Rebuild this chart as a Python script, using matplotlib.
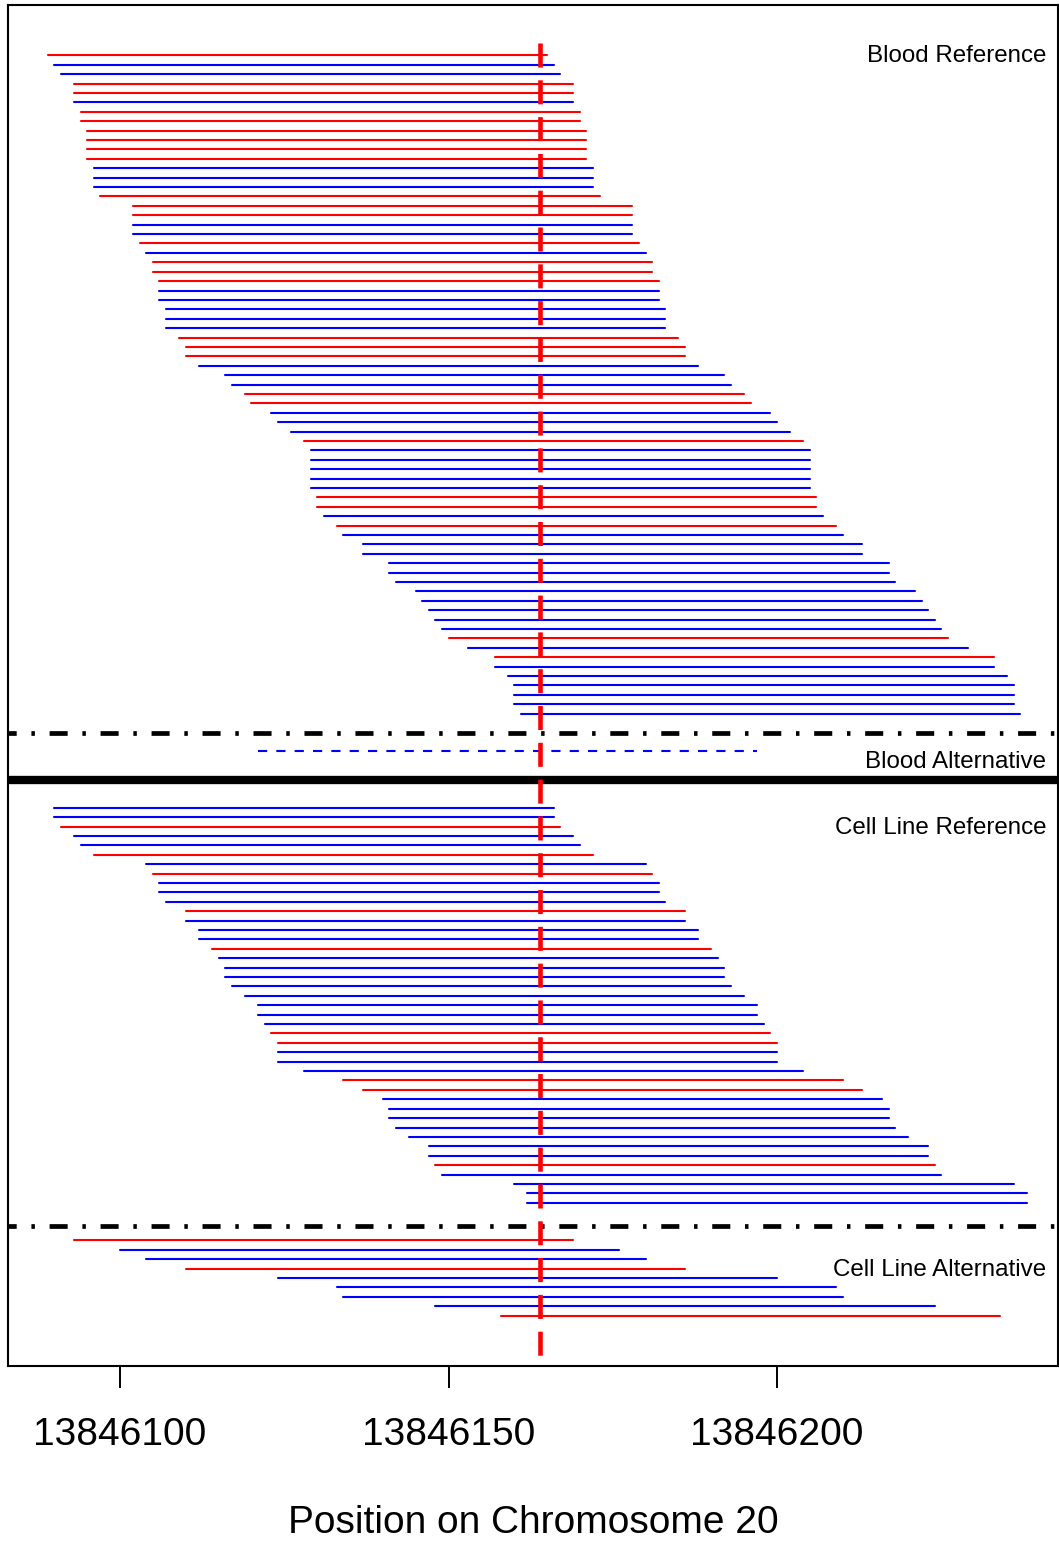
import numpy as np
import matplotlib
matplotlib.use("Agg")
import matplotlib.pyplot as plt

#
# DATA
#

# read starts (chromosome 20), every read is 76 bp long
read_len = 76

blood_ref_start = [13846089, 13846090, 13846091, 13846093, 13846093, 13846093, 13846094, 13846094,
                   13846095, 13846095, 13846095, 13846095, 13846096, 13846096, 13846096, 13846097,
                   13846102, 13846102, 13846102, 13846102, 13846103, 13846104, 13846105, 13846105,
                   13846106, 13846106, 13846106, 13846107, 13846107, 13846107, 13846109, 13846110,
                   13846110, 13846112, 13846116, 13846117, 13846119, 13846120, 13846123, 13846124,
                   13846126, 13846128, 13846129, 13846129, 13846129, 13846129, 13846129, 13846130,
                   13846130, 13846131, 13846133, 13846134, 13846137, 13846137, 13846141, 13846141,
                   13846142, 13846145, 13846146, 13846147, 13846148, 13846149, 13846150, 13846153,
                   13846157, 13846157, 13846159, 13846160, 13846160, 13846160, 13846161]
# R = red (forward), B = blue (reverse)
blood_ref_strand = "RBBRRBRRRRRRBBBRRRBBRBRRRBBBBBRRRBBBRRBBBRBBBBBRRBRBBBBBBBBBBBRBRBBBBBB"

blood_alt_start = [13846121]
blood_alt_strand = "B"

cell_ref_start = [13846090, 13846090, 13846091, 13846093, 13846094, 13846096, 13846104, 13846105,
                  13846106, 13846106, 13846107, 13846110, 13846110, 13846112, 13846112, 13846114,
                  13846115, 13846116, 13846116, 13846117, 13846119, 13846121, 13846121, 13846122,
                  13846123, 13846124, 13846124, 13846124, 13846128, 13846134, 13846137, 13846140,
                  13846141, 13846141, 13846142, 13846144, 13846147, 13846147, 13846148, 13846149,
                  13846160, 13846162, 13846162]
cell_ref_strand = "BBRBBRBRBBBRBBBRBBBBBBBBRRBBBRRBBBBBBBRBBBB"

cell_alt_start = [13846093, 13846100, 13846104, 13846110, 13846124, 13846133, 13846134,
                  13846148, 13846158]
cell_alt_strand = "RBBRBBBBR"

snp_pos = 13846164
xticks = [13846100, 13846150, 13846200]

strand_col = {"R": "#FF0000", "B": "#0000FF"}

#
# PLOTTING
#

plt.rcParams["font.family"] = ["Liberation Sans", "DejaVu Sans"]
plt.rcParams["lines.scale_dashes"] = False

fig = plt.figure(figsize=(10.59, 15.43), dpi=100)
ax = fig.add_axes([8 / 1059, 1 - 1366 / 1543, 1050 / 1059, 1361 / 1543])

# row numbers for each group of reads
y_blood_ref = np.arange(len(blood_ref_start))
y_blood_alt = np.array([74])
y_cell_ref = 80 + np.arange(len(cell_ref_start))
y_cell_alt = 126 + np.arange(len(cell_alt_start))


def draw_reads(starts, strands, rows, **kw):
    starts = np.array(starts)
    cols = [strand_col[s] for s in strands]
    ax.hlines(rows, starts, starts + read_len, colors=cols, linewidth=1.5,
              capstyle="round", **kw)


draw_reads(blood_ref_start, blood_ref_strand, y_blood_ref)
draw_reads(cell_ref_start, cell_ref_strand, y_cell_ref)
draw_reads(cell_alt_start, cell_alt_strand, y_cell_alt)
# alternative read in blood is dashed
ba = np.array(blood_alt_start)
for s, st, y in zip(ba, blood_alt_strand, y_blood_alt):
    ax.plot([s, s + read_len], [y, y], color=strand_col[st], linewidth=1.5,
            dashes=(6.6, 6.6), dash_capstyle="butt")

# separators
dashdot = (20.2, (2.5, 10.6, 13.0, 10.6))
ax.axhline(72, color="black", linewidth=3.4, linestyle=dashdot, dash_capstyle="butt")
ax.axhline(124.5, color="black", linewidth=3.4, linestyle=dashdot, dash_capstyle="butt")
ax.axhline(77, color="black", linewidth=6)

# snp position
ax.plot([snp_pos, snp_pos], [-1.29, 145], color="#FF0000", linewidth=3.3,
        dashes=(17.3, 9.2), dash_capstyle="butt", zorder=5)

# panel labels
lab_kw = dict(transform=ax.get_yaxis_transform(), ha="right", va="center", fontsize=17.4)
ax.text(0.9886, 0.07, "Blood Reference", **lab_kw)
ax.text(0.9886, 75.1, "Blood Alternative", **lab_kw)
ax.text(0.9886, 82.1, "Cell Line Reference", **lab_kw)
ax.text(0.9886, 129.1, "Cell Line Alternative", **lab_kw)

ax.set_xlim(13846082.95, 13846242.77)
ax.set_ylim(139.36, -5.36)

ax.set_xticks(xticks)
ax.set_xticklabels([str(t) for t in xticks])
ax.tick_params(axis="x", length=15.8, width=1.4, pad=21, labelsize=28)
ax.set_yticks([])
for sp in ax.spines.values():
    sp.set_linewidth(1.5)

ax.set_xlabel("Position on Chromosome 20", fontsize=28, labelpad=37.5)

plt.savefig("out.png", dpi=100)
